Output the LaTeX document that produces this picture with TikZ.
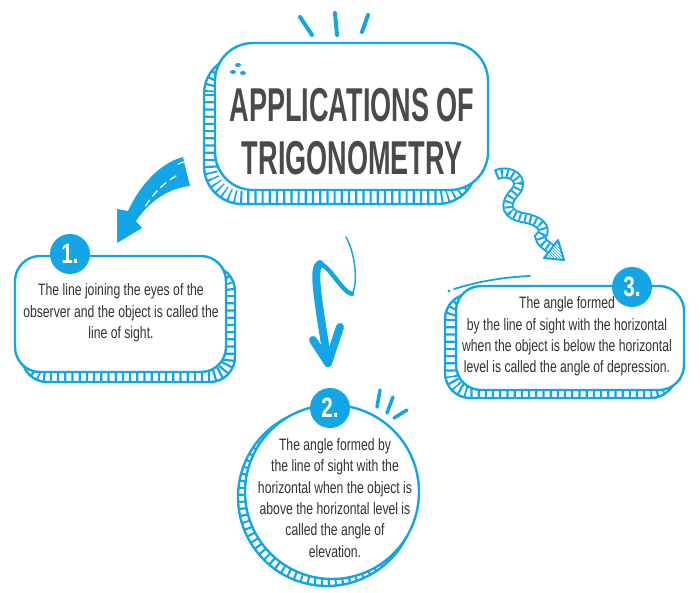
\documentclass[tikz,border=0pt]{standalone}
\usepackage{fontspec}
\setmainfont{Liberation Sans}
\newfontfamily\headfont[FakeStretch=0.57]{Liberation Sans}
\newfontfamily\notefont[FakeStretch=0.74]{Liberation Sans}
\usepackage{tikz}
\usetikzlibrary{patterns}
\definecolor{skyb}{HTML}{14A5E6}
\definecolor{inkgray}{HTML}{333333}
\definecolor{headgray}{HTML}{4A4A4A}

\begin{document}
\begin{tikzpicture}[x=1pt,y=-1pt,
bline/.style={draw=skyb,line width=2.4pt},
hatch/.style={draw=skyb,line width=#1,dash pattern=on 2.2pt off 5pt},
badge/.style={circle,fill=skyb,minimum size=40pt,inner sep=0pt,text=white,font=\notefont\bfseries\fontsize{28}{28}\selectfont},
note/.style={align=center,text=inkgray,font=\notefont\fontsize{16.5}{21.3}\selectfont},
tick/.style={draw=skyb,line width=4pt,line cap=round},
wavy/.style={draw=skyb,line width=11pt,postaction={draw=white,line width=7pt},postaction={draw=skyb,line width=7pt,dash pattern=on 2pt off 3.4pt}}]
\useasboundingbox (0,0) rectangle (700,592);

\begin{scope}
\clip[rounded corners=38] (204,56) rectangle (476,204);
\draw[hatch=26pt,rounded corners=38] (204,56) rectangle (476,204);
\end{scope}
\draw[bline,rounded corners=38] (204,56) rectangle (476,204);
\draw[bline,fill=white,rounded corners=38] (215,43) rectangle (488,190);
\node[text=headgray,align=center,font=\headfont\bfseries\fontsize{47.5}{53}\selectfont] (title) at (352,131.5) {APPLICATIONS OF\\TRIGONOMETRY};
\draw[tick] (300,17) -- (312,35);
\draw[tick] (335,13) -- (337,35);
\draw[tick] (368,15) -- (362,32);
\fill[skyb] (238,65) ellipse (3 and 2);
\fill[skyb] (233,72) ellipse (3 and 2);
\fill[skyb] (243,73) ellipse (3 and 2);

\begin{scope}
\clip[rounded corners=25] (22,266) rectangle (235,382);
\draw[hatch=24pt,rounded corners=25] (22,266) rectangle (235,382);
\end{scope}
\draw[bline,rounded corners=25] (22,266) rectangle (235,382);
\draw[bline,fill=white,rounded corners=25] (15,256) rectangle (226,372);
\node[badge] (b1) at (70,254) {1.};
\node[note] (t1) at (121,313) {The line joining the eyes of the\\observer and the object is called the\\line of sight.};

\begin{scope}
\clip (327,497) circle (89);
\draw[hatch=20pt] (327,497) circle (89);
\end{scope}
\draw[bline] (327,497) circle (89);
\draw[bline,fill=white] (332,492) circle (87);
\node[badge] (b2) at (330,408) {2.};
\node[note] (t2) at (335,498) {The angle formed by\\the line of sight with the\\horizontal when the object is\\above the horizontal level is\\called the angle of\\elevation.};
\draw[tick,line width=3.5pt] (380,390) -- (377,407);
\draw[tick,line width=3.5pt] (393,397) -- (387,413);
\draw[tick,line width=3.5pt] (407,410) -- (394,418);

\begin{scope}
\clip[rounded corners=25] (445,294) rectangle (676,398);
\draw[hatch=24pt,rounded corners=25] (445,294) rectangle (676,398);
\end{scope}
\draw[bline,rounded corners=25] (445,294) rectangle (676,398);
\draw[bline,fill=white,rounded corners=25] (456,286) rectangle (684,390);
\draw[skyb,line width=1.8pt,line cap=round] (454,289) .. controls (480,281) and (505,277) .. (530,276);
\fill[skyb] (449,291) circle (1.6);
\node[badge] (b3) at (632,287) {3.};
\node[note] (t3) at (567,336.5) {The angle formed\\by the line of sight with the horizontal\\when the object is below the horizontal\\level is called the angle of depression.};

\coordinate (a1s) at (186,170);
\coordinate (a1e) at (117,243);
\fill[skyb] (183,157) .. controls (160,163) and (140,185) .. (128,211) -- (117,209) -- (a1e) -- (142,228) -- (136,221) .. controls (150,200) and (170,188) .. (190,186) -- (a1s) -- cycle;
\draw[white,line width=1.3pt,line cap=round,dash pattern=on 7pt off 5pt] (176,176) .. controls (162,184) and (152,195) .. (143,210);
\draw[white,line width=1.1pt,line cap=round] (178,164) -- (186,161);

\coordinate (a2s) at (346,237);
\coordinate (a2e) at (328,363);
\draw[skyb,line width=1.5pt,line cap=round] (a2s) .. controls (356,255) and (358,285) .. (352,294);
\draw[skyb,line width=4.5pt,line cap=round] (352,294) .. controls (342,292) and (330,266) .. (320,264);
\draw[skyb,line width=8pt,line cap=round] (320,264) .. controls (312,268) and (318,300) .. (a2e);
\draw[skyb,line width=8pt,line cap=round,line join=round] (313,340) -- (a2e) -- (340,327);

\coordinate (a3s) at (496,175);
\coordinate (a3e) at (551,249);
\draw[wavy] (a3s) .. controls (510,168) and (526,180) .. (515,192) .. controls (503,205) and (506,215) .. (525,218) .. controls (545,222) and (546,232) .. (540,237) .. controls (541,243) and (546,245) .. (a3e);
\draw[draw=skyb,line width=2pt,line join=round,pattern=north west lines,pattern color=skyb] (558,240) -- (564,260) -- (544,258) -- cycle;
\end{tikzpicture}
\end{document}
